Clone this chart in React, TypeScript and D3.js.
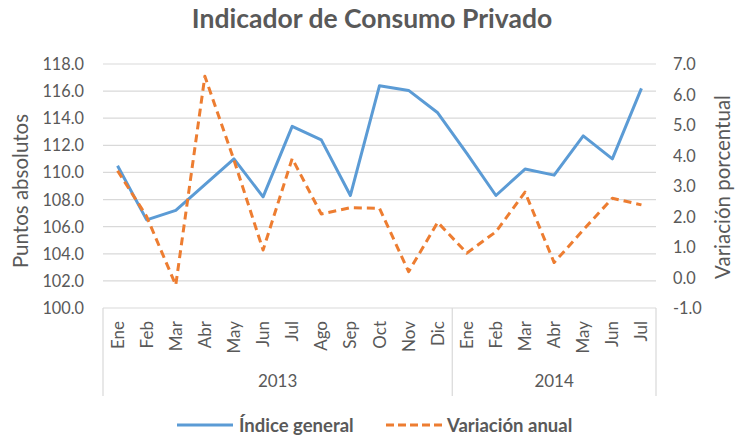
import React from 'react';
import { scaleLinear, scaleBand, line, range } from 'd3';

const months = ['Ene', 'Feb', 'Mar', 'Abr', 'May', 'Jun', 'Jul', 'Ago', 'Sep', 'Oct', 'Nov', 'Dic',
    'Ene', 'Feb', 'Mar', 'Abr', 'May', 'Jun', 'Jul'];
const years = [{ label: '2013', count: 12 }, { label: '2014', count: 7 }];
const indiceGeneral = [110.5, 106.5, 107.2, 109.1, 111.0, 108.2, 113.4, 112.4, 108.3, 116.4, 116.05, 114.4,
    111.4, 108.3, 110.25, 109.8, 112.7, 111.0, 116.2];
const variacionAnual = [3.5, 2.0, -0.25, 6.6, 3.85, 0.9, 3.9, 2.08, 2.29, 2.27, 0.19, 1.81,
    0.8, 1.5, 2.8, 0.49, 1.56, 2.6, 2.38];
const leftTicks = range(100, 118.01, 2);
const rightTicks = range(-1, 7.01, 1);

const FONT = 'Lato, "Open Sans", sans-serif';
const GREY = '#595959';
const BLUE = '#5B9BD5';
const ORANGE = '#ED7D31';

const App = () => {
    const width = 736, height = 438;
    const margin = { top: 64, left: 103 };
    const plotRight = 656;
    const plotBottom = 308;

    const x = scaleBand<number>().domain(months.map((m, i) => i)).range([margin.left, plotRight]);
    const yL = scaleLinear().domain([100, 118]).range([plotBottom, margin.top]);
    const yR = scaleLinear().domain([-1, 7]).range([plotBottom, margin.top]);
    const cx = (i: number) => (x(i) as number) + x.bandwidth() / 2;

    const blueLine = line<number>().x((d, i) => cx(i)).y(d => yL(d));
    const orangeLine = line<number>().x((d, i) => cx(i)).y(d => yR(d));

    // year group boundaries
    let acc = 0;
    const groups = years.map(g => {
        const start = acc;
        acc += g.count;
        return { ...g, start, end: acc };
    });
    const edge = (i: number) => i < months.length ? (x(i) as number) : plotRight;

    return (
        <div style={{ position: 'absolute', left: 0, top: 0 }}>
            <svg width={width} height={height} style={{ display: 'block', background: '#fff' }}>
                <text x={372} y={28} textAnchor="middle" fill={GREY} fontFamily={FONT} fontSize={26.5} fontWeight="bold">
                    Indicador de Consumo Privado
                </text>

                {/* gridlines */}
                {leftTicks.map(t => (
                    <line key={t} x1={margin.left} x2={plotRight} y1={yL(t)} y2={yL(t)} stroke="#d9d9d9" strokeWidth={1.2} />
                ))}

                {/* left axis */}
                {leftTicks.map(t => (
                    <text key={t} x={84} y={yL(t) + 6} textAnchor="end" fill={GREY} fontFamily={FONT} fontSize={16.3}>
                        {t.toFixed(1)}
                    </text>
                ))}
                <text transform={`translate(28,191) rotate(-90)`} textAnchor="middle"
                    fill={GREY} fontFamily={FONT} fontSize={20.5}>Puntos absolutos</text>

                {/* right axis */}
                {rightTicks.map(t => (
                    <text key={t} x={673} y={yR(t) + 6} textAnchor="start" fill={GREY} fontFamily={FONT} fontSize={16.3}>
                        {t.toFixed(1)}
                    </text>
                ))}
                <text transform={`translate(730,187) rotate(-90)`} textAnchor="middle"
                    fill={GREY} fontFamily={FONT} fontSize={20.5}>Variación porcentual</text>

                {/* category axis */}
                <line x1={margin.left} x2={margin.left} y1={plotBottom} y2={396} stroke="#d9d9d9" strokeWidth={1.2} />
                {groups.map(g => (
                    <g key={g.label}>
                        <line x1={edge(g.end)} x2={edge(g.end)} y1={plotBottom} y2={396} stroke="#d9d9d9" strokeWidth={1.2} />
                        <text x={(edge(g.start) + edge(g.end)) / 2} y={387} textAnchor="middle" fill={GREY}
                            fontFamily={FONT} fontSize={17}>{g.label}</text>
                    </g>
                ))}
                {months.map((m, i) => (
                    <text key={i} transform={`translate(${cx(i) + 6},321) rotate(-90)`} textAnchor="end"
                        fill={GREY} fontFamily={FONT} fontSize={17}>{m}</text>
                ))}

                {/* series */}
                <path d={blueLine(indiceGeneral) || ''} fill="none" stroke={BLUE} strokeWidth={3} strokeLinejoin="round" />
                <path d={orangeLine(variacionAnual) || ''} fill="none" stroke={ORANGE} strokeWidth={3}
                    strokeDasharray="8,5" strokeLinejoin="round" />

                {/* legend */}
                <line x1={177} x2={233} y1={425} y2={425} stroke={BLUE} strokeWidth={3} />
                <text x={239} y={432} fill={GREY} fontFamily={FONT} fontSize={18.5} fontWeight="bold">Índice general</text>
                <line x1={386} x2={443} y1={425} y2={425} stroke={ORANGE} strokeWidth={3} strokeDasharray="8,4" />
                <text x={447} y={432} fill={GREY} fontFamily={FONT} fontSize={18.5} fontWeight="bold">Variación anual</text>
            </svg>
        </div>
    );
};

export default App;
